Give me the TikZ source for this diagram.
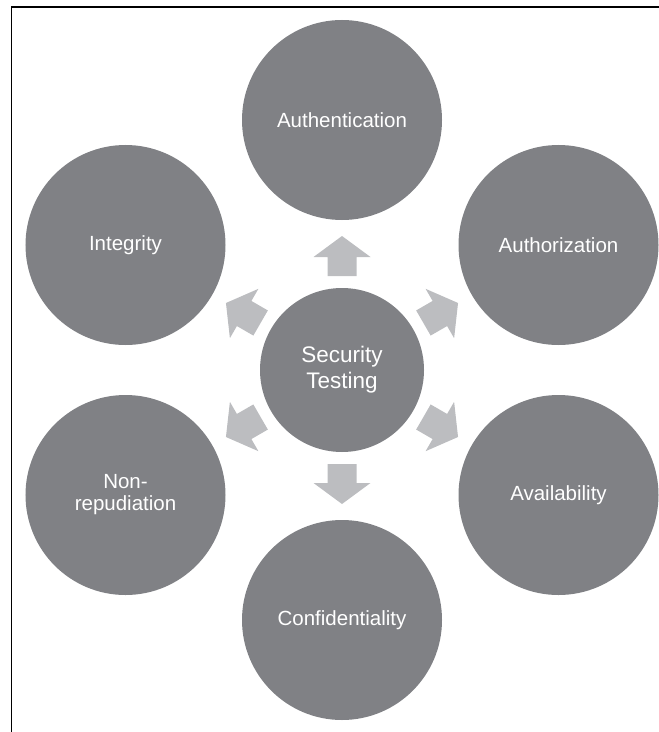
\documentclass[tikz,border=0pt]{standalone}
\usepackage{fontspec}
\setmainfont{Liberation Sans}
\definecolor{circ}{RGB}{128,129,133}
\definecolor{arr}{RGB}{188,189,192}
\begin{document}
\begin{tikzpicture}[x=1bp,y=-1bp,
  bub/.style={circle,fill=circ,minimum size=200bp,inner sep=0pt,text=white,
    font=\fontsize{20.5bp}{22bp}\selectfont,align=center},
  hub/.style={circle,fill=circ,minimum size=164bp,inner sep=0pt,text=white,
    font=\fontsize{22.5bp}{26bp}\selectfont,align=center},
  blockarrow/.style={fill=arr}]
\useasboundingbox (0,0) rectangle (659,732);
\draw[line width=1.3bp] (11.7,732) |- (659,6.9);
\node[hub] (c) at (342,370) {Security\\Testing};
\node[bub] (auth) at (342,120) {Authentication};
\node[bub] (authz) at (558.5,245) {Authorization};
\node[bub] (avail) at (558.5,495) {Availability};
\node[bub] (conf) at (342,620) {Confidentiality};
\node[bub] (nonrep) at (125.5,495) {Non-\\repudiation};
\node[bub] (integ) at (125.5,245) {Integrity};
\foreach \a in {90,30,-30,-90,-150,150}{
  \begin{scope}[shift={(c.center)},rotate=\a]
    \fill[blockarrow] (94,-14.5) -- (113,-14.5) -- (113,-28.5) -- (134,0)
      -- (113,28.5) -- (113,14.5) -- (94,14.5) -- cycle;
  \end{scope}
}
\end{tikzpicture}
\end{document}
